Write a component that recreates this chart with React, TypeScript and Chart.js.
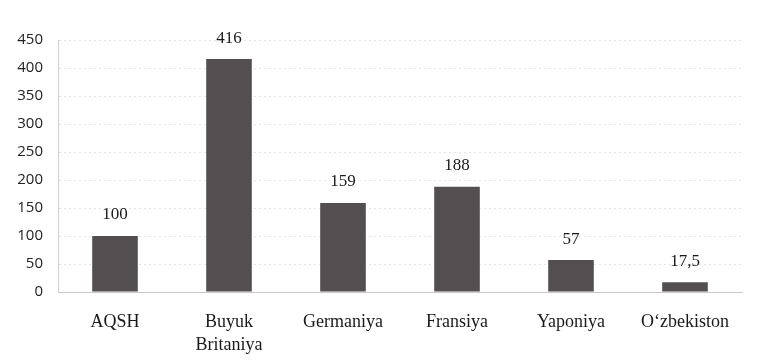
import React, { useEffect, useRef } from "react";
import { Chart, registerables } from "chart.js";

Chart.register(...registerables);

const categories: (string | string[])[] = ["AQSH", ["Buyuk", "Britaniya"], "Germaniya", "Fransiya", "Yaponiya", "O\u2018zbekiston"];
const values: number[] = [100, 416, 159, 188, 57, 17.5];
const valueLabels: string[] = ["100", "416", "159", "188", "57", "17,5"];
const yTicks: number[] = [0, 50, 100, 150, 200, 250, 300, 350, 400, 450];

const valueLabelPlugin = {
  id: "valueLabels",
  afterDatasetsDraw(chart: any) {
    const ctx = chart.ctx;
    const meta = chart.getDatasetMeta(0);
    ctx.save();
    ctx.font = "17px 'Liberation Serif', serif";
    ctx.fillStyle = "#1a1a1a";
    ctx.textAlign = "center";
    ctx.textBaseline = "middle";
    meta.data.forEach((bar: any, i: number) => {
      ctx.fillText(valueLabels[i], bar.x, bar.y - 21);
    });
    ctx.restore();
  },
};

export default function App() {
  const ref = useRef<HTMLCanvasElement | null>(null);
  useEffect(() => {
    if (!ref.current) return;
    const chart = new Chart(ref.current, {
      type: "bar",
      data: {
        labels: categories,
        datasets: [
          {
            data: values,
            backgroundColor: "#534e50",
            barPercentage: 0.4,
            categoryPercentage: 1,
          },
        ],
      },
      options: {
        animation: false,
        responsive: false,
        maintainAspectRatio: false,
        layout: { padding: { left: 0, right: 31, top: 40, bottom: 0 } },
        plugins: { legend: { display: false }, tooltip: { enabled: false } },
        scales: {
          x: {
            grid: { display: false, drawTicks: false },
            border: { display: true, color: "#c8c8c8" },
            ticks: {
              padding: 19,
              color: "#1a1a1a",
              font: { family: "'Liberation Serif', serif", size: 18, lineHeight: 1.28 },
              maxRotation: 0,
              autoSkip: false,
            },
            afterFit(scale: any) {
              scale.height = 72;
            },
          },
          y: {
            min: 0,
            max: 450,
            afterBuildTicks(scale: any) {
              scale.ticks = yTicks.map((v) => ({ value: v }));
            },
            grid: { color: "#e4e4e4", drawTicks: false },
            border: { display: true, color: "#d0d0d0", dash: [2, 3] },
            ticks: {
              padding: 15,
              color: "#222",
              font: { family: "'Open Sans', sans-serif", size: 15 },
            },
            afterFit(scale: any) {
              scale.width = 58;
            },
          },
        },
      },
      plugins: [valueLabelPlugin],
    });
    return () => chart.destroy();
  }, []);
  return (
    <div style={{ position: "fixed", left: 0, top: 0, width: 773, height: 364, background: "#fff" }}>
      <canvas ref={ref} width={773} height={364} style={{ width: 773, height: 364 }} />
    </div>
  );
}
